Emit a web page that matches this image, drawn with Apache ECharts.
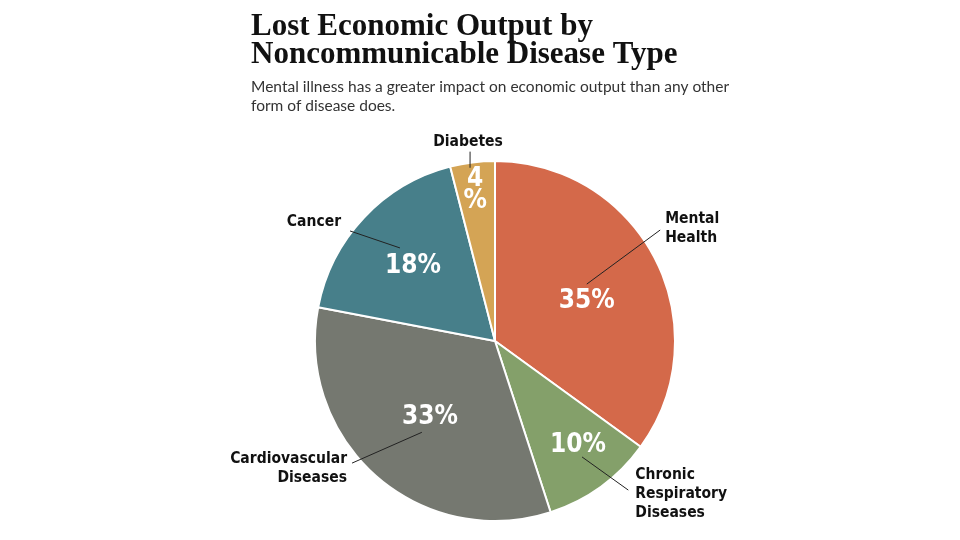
<!DOCTYPE html>
<html lang="en">
<head>
    <meta charset="UTF-8">
    <title>Lost Economic Output</title>
    <script src="https://cdn.jsdelivr.net/npm/echarts@6/dist/echarts.min.js"></script>
    <style>
        html, body { margin: 0; padding: 0; background: #fff; }
        #chart { width: 960px; height: 540px; }
    </style>
</head>
<body>
<div id="chart"></div>

<script>
    // data
    const categories = ['Mental Health', 'Chronic Respiratory Diseases', 'Cardiovascular Diseases', 'Cancer', 'Diabetes'];
    const nameLabels = ['Mental\nHealth', 'Chronic\nRespiratory\nDiseases', 'Cardiovascular\nDiseases', 'Cancer', 'Diabetes'];
    const shares = [35, 10, 33, 18, 4];

    const colors = ['#d4694a', '#84a06a', '#757870', '#477f8a', '#d4a455'];
    const condensed = "'Liberation Sans Narrow', 'DejaVu Sans Condensed', sans-serif";

    // pie geometry
    const cx = 495, cy = 341, R = 180;
    // percent labels: angle shift (deg) from slice middle, radius
    const pctPos = [[3.5, 100], [-2.6, 133], [-0.9, 100], [-0.8, 111], [-0.3, 152]];
    // leader lines: start shift/radius, end shift/radius, then label offset + align
    const leaders = [
        {s: -4.8, r0: 108, e: -6.9, r1: 199, dx: 5, dy: -2, align: 'left'},
        {s: -0.9, r0: 145, e: -5.8, r1: 200, dx: 7, dy: 4, align: 'left'},
        {s: -2.7, r0: 117, e: 8.1, r1: 188, dx: -5, dy: 5, align: 'right'},
        {s: 1.2, r0: 133, e: -6.0, r1: 182, dx: -9, dy: -9, align: 'right'},
        {s: -1.0, r0: 175, e: -0.3, r1: 191, dx: -2, dy: -10, align: 'center'}
    ];

    // middle angle of each slice, clockwise from 12 o'clock
    const total = shares.reduce((a, b) => a + b, 0);
    let acc = 0;
    const midAngles = shares.map(v => {
        const m = (acc + v / 2) / total * 360;
        acc += v;
        return m;
    });

    function polar(deg, r) {
        const a = deg * Math.PI / 180;
        return [cx + r * Math.sin(a), cy - r * Math.cos(a)];
    }

    const pieData = categories.map((c, i) => ({
        name: c,
        value: shares[i],
        itemStyle: {color: colors[i]}
    }));

    // leader lines from inside each slice out to its name
    const leaderLines = leaders.map((l, i) => ({
        type: 'polyline',
        z: 100,
        silent: true,
        shape: {points: [polar(midAngles[i] + l.s, l.r0), polar(midAngles[i] + l.e, l.r1)]},
        style: {stroke: '#222', lineWidth: 1, fill: null}
    }));

    const option = {
        animation: false,
        title: {
            left: 246,
            top: 8,
            text: 'Lost Economic Output by\nNoncommunicable Disease Type',
            textStyle: {
                fontFamily: "'Liberation Serif', serif",
                fontWeight: 'bold',
                fontSize: 31,
                lineHeight: 28,
                color: '#111'
            },
            subtext: 'Mental illness has a greater impact on economic output than any other\nform of disease does.',
            subtextStyle: {
                fontFamily: 'Lato, sans-serif',
                fontSize: 15.5,
                lineHeight: 19,
                color: '#333'
            },
            itemGap: 5
        },
        graphic: leaderLines,
        series: [
            {
                type: 'pie',
                center: [cx, cy],
                radius: [0, R],
                startAngle: 90,
                clockwise: true,
                silent: true,
                avoidLabelOverlap: false,
                itemStyle: {borderColor: '#fff', borderWidth: 2},
                label: {
                    show: true,
                    position: 'inside',
                    color: '#fff',
                    fontFamily: condensed,
                    fontWeight: 'bold',
                    fontSize: 26,
                    lineHeight: 22,
                    formatter: p => p.value < 5 ? p.value + '\n%' : p.value + '%'
                },
                labelLayout: function (params) {
                    const i = params.dataIndex;
                    const pt = polar(midAngles[i] + pctPos[i][0], pctPos[i][1]);
                    return {x: pt[0], y: pt[1], align: 'center', verticalAlign: 'middle'};
                },
                data: pieData
            },
            {
                // category names, placed at the outer end of each leader line
                type: 'pie',
                center: [cx, cy],
                radius: [0, R],
                startAngle: 90,
                clockwise: true,
                silent: true,
                avoidLabelOverlap: false,
                itemStyle: {color: 'rgba(0,0,0,0)', borderWidth: 0},
                label: {
                    show: true,
                    position: 'outside',
                    color: '#111',
                    fontFamily: condensed,
                    fontWeight: 'bold',
                    fontSize: 15.5,
                    lineHeight: 19,
                    formatter: p => nameLabels[p.dataIndex]
                },
                labelLine: {show: false},
                labelLayout: function (params) {
                    const i = params.dataIndex;
                    const l = leaders[i];
                    const p1 = polar(midAngles[i] + l.e, l.r1);
                    return {
                        x: p1[0] + l.dx,
                        y: p1[1] + l.dy,
                        align: l.align,
                        verticalAlign: 'middle'
                    };
                },
                data: categories.map((c, i) => ({name: c, value: shares[i]}))
            }
        ]
    };

    const chart = echarts.init(document.getElementById('chart'));
    chart.setOption(option);
</script>
</body>
</html>
